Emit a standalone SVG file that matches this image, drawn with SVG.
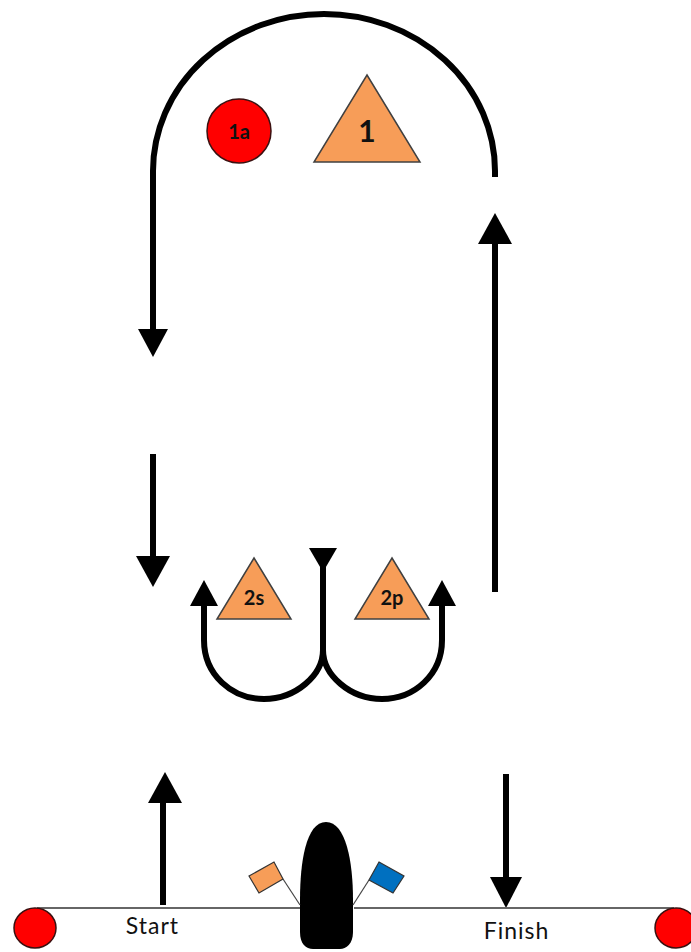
<svg xmlns="http://www.w3.org/2000/svg" width="691" height="952" viewBox="0 0 691 952">
<defs>
<style>
.c{fill:none;stroke:#000;stroke-width:6}
.h{fill:#000;stroke:none}
.t{fill:#f79d58;stroke:#404040;stroke-width:1.5}
.m{fill:#f00;stroke:#3a1010;stroke-width:1.5}
.l{font-family:Lato,"Open Sans",sans-serif;text-anchor:middle;fill:#111}
.b{font-weight:700}
.s{letter-spacing:1px}
.w{fill:none;stroke:#666;stroke-width:2}
</style>
</defs>
<rect width="691" height="952" fill="#fff"/>
<g id="connectors">
<path class="c" d="M495 177V171A171 157 0 0 0 153 171V332"/>
<path class="h" d="M138 329H168L153 357Z"/>
<path class="c" d="M153 454V560"/>
<path class="h" d="M136 556H170L153 587Z"/>
<path class="c" d="M495 592V240"/>
<path class="h" d="M478 244H512L495 213Z"/>
<path class="c" d="M163 905V798"/>
<path class="h" d="M148 803H182L165 772Z"/>
<path class="c" d="M506 774V880"/>
<path class="h" d="M490 877H522L506 908Z"/>
<path class="c" d="M323 565V650"/>
<path class="h" d="M309 548H337L323 572Z"/>
<path class="c" d="M204 602V640C204 675 232 699 264 699C296 699 323 675 323 650"/>
<path class="h" d="M190 606H218L204 580Z"/>
<path class="c" d="M442 602V640C442 675 414 699 382 699C350 699 323 675 323 650"/>
<path class="h" d="M428 606H456L442 580Z"/>
</g>
<g id="line">
<path class="w" d="M37 908H300M354 908H674"/>
</g>
<g id="mark-1a"><circle class="m" cx="239" cy="131" r="32"/><text class="l b" x="239" y="139" font-size="20">1a</text></g>
<g id="mark-1"><path class="t" d="M367 75L420 162H314Z"/><text class="l b" x="367" y="142" font-size="30">1</text></g>
<g id="mark-2s"><path class="t" d="M254 558L291 619H217Z"/><text class="l b" x="254" y="605" font-size="20">2s</text></g>
<g id="mark-2p"><path class="t" d="M392 558L429 619H355Z"/><text class="l b" x="392" y="605" font-size="20">2p</text></g>
<g id="pin-left"><ellipse class="m" cx="35" cy="928" rx="21" ry="20"/></g>
<g id="pin-right"><ellipse class="m" cx="676" cy="928" rx="21" ry="20"/></g>
<g id="boat"><path fill="#000" d="M326 822C346 822 353 862 353 900V932C353 944 346 949 340 949H313C306 949 300 944 300 932V900C300 862 306 822 326 822Z"/></g>
<g id="flag-orange">
<path fill="none" stroke="#444" stroke-width="1.2" d="M283 879L300 905"/>
<path fill="#f79d58" stroke="#333" stroke-width="1.2" d="M249 876L274 862L283 879L259 893Z"/>
</g>
<g id="flag-blue">
<path fill="none" stroke="#444" stroke-width="1.2" d="M369 880L353 905"/>
<path fill="#0070c0" stroke="#333" stroke-width="1.2" d="M379 862L404 876L393 893L369 880Z"/>
</g>
<g id="label-start"><text class="l s" x="152.5" y="934" font-size="23">Start</text></g>
<g id="label-finish"><text class="l s" x="516.5" y="939" font-size="23">Finish</text></g>
</svg>
